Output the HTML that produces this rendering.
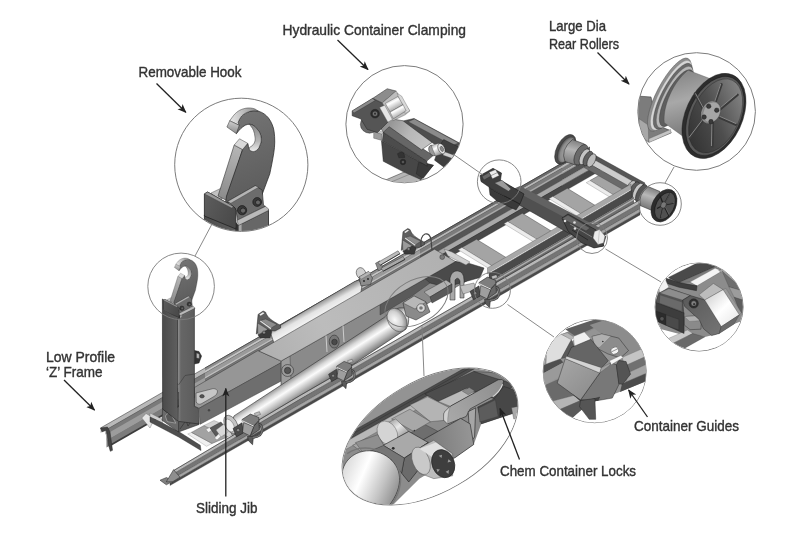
<!DOCTYPE html>
<html><head><meta charset="utf-8">
<style>
html,body{margin:0;padding:0;background:#fff;}
body{width:800px;height:533px;overflow:hidden;}
svg{display:block;filter:blur(0.45px)}
text{font-family:"Liberation Sans",sans-serif;font-size:14.3px;fill:#333;stroke:#333;stroke-width:0.38px;}
</style></head><body>
<svg width="800" height="533" viewBox="0 0 800 533">
<defs>
<marker id="ah" viewBox="0 0 10 10" refX="9" refY="5" markerWidth="9" markerHeight="9" orient="auto" markerUnits="userSpaceOnUse"><path d="M0,1 L10,5 L0,9 L2.5,5 Z" fill="#222"/></marker>
<linearGradient id="cyl" x1="0" y1="0" x2="0" y2="1"><stop offset="0" stop-color="#8a8a8a"/><stop offset=".3" stop-color="#e8e8e8"/><stop offset=".6" stop-color="#c9c9c9"/><stop offset="1" stop-color="#777"/></linearGradient>
<linearGradient id="cylB" gradientUnits="userSpaceOnUse" x1="300" y1="312" x2="311" y2="332"><stop offset="0" stop-color="#8a8a8a"/><stop offset=".3" stop-color="#e4e4e4"/><stop offset=".6" stop-color="#f4f4f4"/><stop offset="1" stop-color="#a0a0a0"/></linearGradient>
<linearGradient id="cylF" gradientUnits="userSpaceOnUse" x1="320" y1="358.6" x2="332.5" y2="378.2"><stop offset="0" stop-color="#858585"/><stop offset=".25" stop-color="#d8d8d8"/><stop offset=".42" stop-color="#fbfbfb"/><stop offset=".7" stop-color="#bdbdbd"/><stop offset="1" stop-color="#707070"/></linearGradient>
<linearGradient id="jibTop" gradientUnits="userSpaceOnUse" x1="200" y1="400" x2="450" y2="255"><stop offset="0" stop-color="#a2a2a2"/><stop offset=".5" stop-color="#bcbcbc"/><stop offset="1" stop-color="#b0b0b0"/></linearGradient>
<linearGradient id="postF" x1="0" y1="0" x2="1" y2="0"><stop offset="0" stop-color="#4a4a4a"/><stop offset="1" stop-color="#5f5f5f"/></linearGradient>
<linearGradient id="postS" x1="0" y1="0" x2="1" y2="0"><stop offset="0" stop-color="#8a8a8a"/><stop offset=".15" stop-color="#666"/><stop offset="1" stop-color="#5a5a5a"/></linearGradient>
<radialGradient id="flangeG" cx=".6" cy=".5" r=".6"><stop offset="0" stop-color="#b0b0b0"/><stop offset=".7" stop-color="#8a8a8a"/><stop offset="1" stop-color="#4a4a4a"/></radialGradient>
<linearGradient id="hkFace" gradientUnits="userSpaceOnUse" x1="235" y1="115" x2="270" y2="200"><stop offset="0" stop-color="#737373"/><stop offset="1" stop-color="#5a5a5a"/></linearGradient>
<linearGradient id="hkEdge" gradientUnits="userSpaceOnUse" x1="238" y1="147" x2="222" y2="198"><stop offset="0" stop-color="#b5b5b5"/><stop offset="1" stop-color="#8c8c8c"/></linearGradient>
<linearGradient id="hkTopEdge" gradientUnits="userSpaceOnUse" x1="230" y1="120" x2="258" y2="110"><stop offset="0" stop-color="#e6e6e6"/><stop offset=".5" stop-color="#bdbdbd"/><stop offset="1" stop-color="#8a8a8a"/></linearGradient>
<linearGradient id="hkTip" gradientUnits="userSpaceOnUse" x1="232" y1="121" x2="230" y2="133"><stop offset="0" stop-color="#d0d0d0"/><stop offset="1" stop-color="#8a8a8a"/></linearGradient>
<linearGradient id="hkThroat" gradientUnits="userSpaceOnUse" x1="255" y1="125" x2="255" y2="152"><stop offset="0" stop-color="#8a8a8a"/><stop offset=".6" stop-color="#b5b5b5"/><stop offset="1" stop-color="#f0f0f0"/></linearGradient>
<linearGradient id="hkPlate" gradientUnits="userSpaceOnUse" x1="204" y1="200" x2="236" y2="215"><stop offset="0" stop-color="#5c5c5c"/><stop offset="1" stop-color="#4a4a4a"/></linearGradient>
<linearGradient id="hkPostF" gradientUnits="userSpaceOnUse" x1="204" y1="0" x2="236" y2="0"><stop offset="0" stop-color="#4c4c4c"/><stop offset="1" stop-color="#5e5e5e"/></linearGradient>
<linearGradient id="clTop" gradientUnits="userSpaceOnUse" x1="180" y1="260" x2="390" y2="370"><stop offset="0" stop-color="#8e8e8e"/><stop offset=".5" stop-color="#b8b8b8"/><stop offset="1" stop-color="#c6c6c6"/></linearGradient>
<linearGradient id="clRoll" gradientUnits="objectBoundingBox" x1="0" y1="0" x2=".6" y2="1"><stop offset="0" stop-color="#8a8a8a"/><stop offset=".45" stop-color="#ffffff"/><stop offset="1" stop-color="#8a8a8a"/></linearGradient>
<linearGradient id="rlDrum" gradientUnits="userSpaceOnUse" x1="160" y1="120" x2="230" y2="380"><stop offset="0" stop-color="#8a8a8a"/><stop offset=".4" stop-color="#a8a8a8"/><stop offset="1" stop-color="#777"/></linearGradient>
<linearGradient id="rlDish" gradientUnits="userSpaceOnUse" x1="250" y1="400" x2="450" y2="180"><stop offset="0" stop-color="#333"/><stop offset=".5" stop-color="#4e4e4e"/><stop offset="1" stop-color="#838383"/></linearGradient>
<linearGradient id="rtJaw" gradientUnits="userSpaceOnUse" x1="200" y1="220" x2="380" y2="420"><stop offset="0" stop-color="#5c5c5c"/><stop offset="1" stop-color="#737373"/></linearGradient>
<linearGradient id="rtBlock" gradientUnits="userSpaceOnUse" x1="330" y1="210" x2="470" y2="350"><stop offset="0" stop-color="#dcdcdc"/><stop offset=".5" stop-color="#ffffff"/><stop offset="1" stop-color="#ececec"/></linearGradient>
<linearGradient id="gdFace" gradientUnits="userSpaceOnUse" x1="110" y1="220" x2="260" y2="400"><stop offset="0" stop-color="#a4a4a4"/><stop offset="1" stop-color="#8c8c8c"/></linearGradient>
<linearGradient id="chPlate" gradientUnits="userSpaceOnUse" x1="330" y1="290" x2="500" y2="260"><stop offset="0" stop-color="#7a7a7a"/><stop offset="1" stop-color="#979797"/></linearGradient>
<linearGradient id="chBarrel" gradientUnits="userSpaceOnUse" x1="180" y1="215" x2="230" y2="280"><stop offset="0" stop-color="#9a9a9a"/><stop offset=".5" stop-color="#e8e8e8"/><stop offset="1" stop-color="#9a9a9a"/></linearGradient>
<linearGradient id="chCyl" gradientUnits="userSpaceOnUse" x1="20" y1="380" x2="230" y2="470"><stop offset="0" stop-color="#d8d8d8"/><stop offset=".35" stop-color="#ffffff"/><stop offset=".7" stop-color="#c4c4c4"/><stop offset="1" stop-color="#8a8a8a"/></linearGradient>
<radialGradient id="cylEnd" cx=".4" cy=".45" r=".6"><stop offset="0" stop-color="#fafafa"/><stop offset=".6" stop-color="#d0d0d0"/><stop offset="1" stop-color="#8a8a8a"/></radialGradient>
<clipPath id="clipHookMain"><path d="M150,250 L220,250 L220,309 L195,309 L178.5,319 L161,308 L150,308 Z"/></clipPath>
<linearGradient id="chArm" gradientUnits="userSpaceOnUse" x1="400" y1="200" x2="600" y2="70"><stop offset="0" stop-color="#a8a8a8"/><stop offset="1" stop-color="#8e8e8e"/></linearGradient>
<linearGradient id="drumG" gradientUnits="userSpaceOnUse" x1="574" y1="140" x2="568" y2="164"><stop offset="0" stop-color="#808080"/><stop offset=".4" stop-color="#b4b4b4"/><stop offset="1" stop-color="#787878"/></linearGradient>
<linearGradient id="drumG2" gradientUnits="userSpaceOnUse" x1="652" y1="188" x2="645" y2="208"><stop offset="0" stop-color="#808080"/><stop offset=".4" stop-color="#b8b8b8"/><stop offset="1" stop-color="#777"/></linearGradient>
<clipPath id="cHook"><circle cx="241.3" cy="164.8" r="66.2"/></clipPath>
<clipPath id="cClamp"><circle cx="404.5" cy="124.2" r="58.2"/></clipPath>
<clipPath id="cRoll"><circle cx="696.6" cy="111.5" r="58.4"/></clipPath>
<clipPath id="cRight"><circle cx="699.1" cy="307" r="43.7"/></clipPath>
<clipPath id="cGuide"><circle cx="594.7" cy="371.2" r="51.2"/></clipPath>
<clipPath id="cChem"><ellipse cx="430" cy="436.5" rx="96" ry="55.4" transform="rotate(-30.3 430 436.5)"/></clipPath>
<!--HOOKDEF-->

<!--/HOOKDEF-->
</defs>
<rect width="800" height="533" fill="#fff"/>

<!--MAIN-->
<g id="main">
<path d="M106.5,428.6 L562.0,167.1 L562.0,186.1 L106.5,447.6 Z" fill="#777" stroke="none" stroke-width="0.4" stroke-linejoin="round" />
<path d="M100.5,428.0 L562.0,163.1 L562.0,168.1 L100.5,433.0 Z" fill="#b9b9b9" stroke="none" stroke-width="0.4" stroke-linejoin="round" />
<path d="M105.5,430.1 L562.0,168.1 L562.0,172.6 L105.5,434.6 Z" fill="#7a7a7a" stroke="none" stroke-width="0.4" stroke-linejoin="round" />
<path d="M106.5,434.1 L562.0,172.6 L562.0,179.1 L106.5,440.6 Z" fill="#9c9c9c" stroke="none" stroke-width="0.4" stroke-linejoin="round" />
<path d="M107.5,440.0 L562.0,179.1 L562.0,185.1 L107.5,446.0 Z" fill="#7c7c7c" stroke="none" stroke-width="0.4" stroke-linejoin="round" />
<path d="M109.5,444.8 L562.0,185.1 L562.0,187.1 L109.5,446.8 Z" fill="#3c3c3c" stroke="none" stroke-width="0.4" stroke-linejoin="round" />
<path d="M100.5,428.0 L562.0,163.1" fill="none" stroke="#2b2b2b" stroke-width="0.5"/>
<path d="M105.5,430.1 L562.0,168.1" fill="none" stroke="#444" stroke-width="0.4"/>
<path d="M100.5,428.0 L102.0,431.8 L106.5,430.3 L108.8,446.0 L110.3,451.3 L112.5,450.3 L110.0,432.0 L107.5,427.0 Z" fill="#444" stroke="#2b2b2b" stroke-width="0.5" stroke-linejoin="round" />
<path d="M205.0,368.0 L420.0,244.6 L420.0,247.6 L205.0,371.0 Z" fill="#8c8c8c" stroke="none" stroke-width="0.4" stroke-linejoin="round" />
<path d="M205.0,371.0 L420.0,247.6 L420.0,249.6 L205.0,373.0 Z" fill="#c6c6c6" stroke="none" stroke-width="0.4" stroke-linejoin="round" />
<path d="M205.0,373.0 L420.0,249.6 L420.0,253.6 L205.0,377.0 Z" fill="#9a9a9a" stroke="none" stroke-width="0.4" stroke-linejoin="round" />
<path d="M205.0,377.0 L420.0,253.6 L420.0,255.6 L205.0,379.0 Z" fill="#bdbdbd" stroke="none" stroke-width="0.4" stroke-linejoin="round" />
<path d="M205.0,379.0 L420.0,255.6 L420.0,261.6 L205.0,385.0 Z" fill="#787878" stroke="none" stroke-width="0.4" stroke-linejoin="round" />
<path d="M420.0,244.6 L590.0,147.0 L590.0,150.0 L420.0,247.6 Z" fill="#6a6a6a" stroke="none" stroke-width="0.4" stroke-linejoin="round" />
<path d="M420.0,247.6 L590.0,150.0 L590.0,152.0 L420.0,249.6 Z" fill="#b8b8b8" stroke="none" stroke-width="0.4" stroke-linejoin="round" />
<path d="M420.0,249.6 L590.0,152.0 L590.0,156.0 L420.0,253.6 Z" fill="#7c7c7c" stroke="none" stroke-width="0.4" stroke-linejoin="round" />
<path d="M420.0,253.6 L590.0,156.0 L590.0,158.0 L420.0,255.6 Z" fill="#a8a8a8" stroke="none" stroke-width="0.4" stroke-linejoin="round" />
<path d="M420.0,255.6 L590.0,158.0 L590.0,164.0 L420.0,261.6 Z" fill="#555" stroke="none" stroke-width="0.4" stroke-linejoin="round" />
<path d="M205.0,368.0 L590.0,147.0" fill="none" stroke="#2a2a2a" stroke-width="0.6"/>
<path d="M205.0,373.0 L590.0,152.0" fill="none" stroke="#444" stroke-width="0.3"/>
<path d="M205.0,379.0 L590.0,158.0" fill="none" stroke="#333" stroke-width="0.3"/>
<path d="M205.0,385.0 L420.0,261.6 L420.0,271.6 L205.0,395.0 Z" fill="#8a8a8a" stroke="#333" stroke-width="0.3" stroke-linejoin="round" />
<path d="M420.0,261.6 L596.0,160.6 L596.0,166.2 L420.0,267.2 Z" fill="#a8a8a8" stroke="#333" stroke-width="0.3" stroke-linejoin="round" />
<path d="M420.0,267.2 L600.0,163.9 L600.0,170.8 L420.0,274.1 Z" fill="#484848" stroke="#222" stroke-width="0.3" stroke-linejoin="round" />
<path d="M141.8,418.0 L146.0,413.5 L154.5,418.5 L150.0,428.0 Z" fill="#e6e6e6" stroke="#666" stroke-width="0.4" stroke-linejoin="round" />
<path d="M150.0,413.0 L162.6,419.5 L162.6,423.0 L150.0,417.0 Z" fill="#cfcfcf" stroke="#555" stroke-width="0.3" stroke-linejoin="round" />
<path d="M150.0,417.0 L162.6,423.0 L178.6,431.5 L200.3,445.3 L201.0,450.5 L178.6,437.0 L150.0,422.0 Z" fill="#4f4f4f" stroke="#222" stroke-width="0.4" stroke-linejoin="round" />
<path d="M187.7,434.0 L191.5,432.4 L212.0,443.5 L206.5,446.3 Z" fill="#efefef" stroke="#777" stroke-width="0.3" stroke-linejoin="round" />
<path d="M191.5,432.4 L204.0,425.5 L228.0,436.8 L212.0,443.5 Z" fill="#a2a2a2" stroke="#444" stroke-width="0.4" stroke-linejoin="round" />
<path d="M204.0,425.5 L214.0,420.5 L240.0,431.0 L228.0,436.8 Z" fill="#d2d2d2" stroke="#666" stroke-width="0.3" stroke-linejoin="round" />
<path d="M552.8,196.5 L567.3,188.3 L595.8,205.8 L581.3,214.0 Z" fill="#a4a4a4" stroke="#333" stroke-width="0.4" stroke-linejoin="round" />
<path d="M549.0,198.7 L552.8,196.5 L581.3,214.0 L577.5,216.2 Z" fill="#ececec" stroke="#666" stroke-width="0.3" stroke-linejoin="round" />
<path d="M507.8,221.5 L522.3,213.3 L553.3,232.3 L538.8,240.5 Z" fill="#a4a4a4" stroke="#333" stroke-width="0.4" stroke-linejoin="round" />
<path d="M504.0,223.7 L507.8,221.5 L538.8,240.5 L535.0,242.7 Z" fill="#ececec" stroke="#666" stroke-width="0.3" stroke-linejoin="round" />
<path d="M462.0,247.5 L476.5,239.3 L508.1,258.7 L493.6,266.9 Z" fill="#a4a4a4" stroke="#333" stroke-width="0.4" stroke-linejoin="round" />
<path d="M458.2,249.7 L462.0,247.5 L493.6,266.9 L489.8,269.1 Z" fill="#ececec" stroke="#666" stroke-width="0.3" stroke-linejoin="round" />
<path d="M590.0,180.5 L604.5,172.3 L630.9,188.5 L616.4,196.7 Z" fill="#a4a4a4" stroke="#333" stroke-width="0.4" stroke-linejoin="round" />
<path d="M586.2,182.7 L590.0,180.5 L616.4,196.7 L612.6,198.8 Z" fill="#ececec" stroke="#666" stroke-width="0.3" stroke-linejoin="round" />
<path d="M590.0,152.5 L645.0,183.0 L643.0,187.0 L588.5,156.5 Z" fill="#565656" stroke="#222" stroke-width="0.4" stroke-linejoin="round" />
<path d="M588.5,156.5 L643.0,187.0 L640.0,192.5 L586.0,162.0 Z" fill="#cdcdcd" stroke="#444" stroke-width="0.4" stroke-linejoin="round" />
<path d="M586.0,162.0 L640.0,192.5 L637.0,197.5 L584.0,167.5 Z" fill="#6a6a6a" stroke="#333" stroke-width="0.3" stroke-linejoin="round" />
<g stroke="#222" stroke-width="0.5"><ellipse cx="565.3" cy="149.4" rx="8.6" ry="16.2" transform="rotate(27 565.3 149.4)" fill="#4a4a4a"/><ellipse cx="566.3" cy="149.8" rx="7" ry="14" transform="rotate(27 566.3 149.8)" fill="url(#flangeG)" stroke="#333" stroke-width="0.4"/><path d="M572.5,139.5 L584.5,144 Q588,155 577,165.5 L565,161.5 Q560,150 572.5,139.5 Z" fill="url(#drumG)"/><ellipse cx="581" cy="154.8" rx="5.6" ry="11.2" transform="rotate(27 581 154.8)" fill="#6a6a6a"/><ellipse cx="584.5" cy="156.8" rx="4.2" ry="8.6" transform="rotate(27 584.5 156.8)" fill="#c4c4c4"/><ellipse cx="588" cy="158.6" rx="4" ry="8" transform="rotate(27 588 158.6)" fill="#606060"/><ellipse cx="591.5" cy="160.4" rx="3.6" ry="7.2" transform="rotate(27 591.5 160.4)" fill="#bdbdbd"/></g>
<g stroke="#222" stroke-width="0.5"><ellipse cx="631" cy="187.5" rx="3.6" ry="7.6" transform="rotate(27 631 187.5)" fill="#bdbdbd"/><ellipse cx="634.5" cy="189.5" rx="4" ry="8.4" transform="rotate(27 634.5 189.5)" fill="#5c5c5c"/><ellipse cx="638" cy="191.5" rx="4.2" ry="9" transform="rotate(27 638 191.5)" fill="#c8c8c8"/><ellipse cx="641.5" cy="193.5" rx="4.6" ry="9.8" transform="rotate(27 641.5 193.5)" fill="#555"/><path d="M648,186.5 L660,191.5 Q662,203 652,210.5 L640,205.5 Q638,195 648,186.5 Z" fill="url(#drumG2)"/><ellipse cx="664" cy="205.6" rx="11.6" ry="17.4" transform="rotate(27 664 205.6)" fill="#2c2c2c"/><ellipse cx="665" cy="206" rx="9" ry="14.6" transform="rotate(27 665 206)" fill="#505050" stroke="#111"/><path d="M663.5,205 L670,193.5 M663.5,205 L673.5,203 M663.5,205 L669,216 M663.5,205 L660.5,218 M663.5,205 L657,208.5 M663.5,205 L660,195.5" stroke="#1e1e1e" stroke-width="1.3"/><path d="M664,204.5 L670.5,193 M664,204.5 L674,202.5 M664,204.5 L669.5,215.5 M664,204.5 L661,217.5" stroke="#8a8a8a" stroke-width="0.4"/><ellipse cx="663.5" cy="205" rx="2.6" ry="3.4" transform="rotate(27 663.5 205)" fill="#777"/></g>
<path d="M487.5,267.9 L631.0,183.9 L631.0,189.9 L487.5,273.9 Z" fill="#a8a8a8" stroke="#333" stroke-width="0.3" stroke-linejoin="round" />
<path d="M490.0,272.4 L631.0,189.9" fill="none" stroke="#ececec" stroke-width="1.0"/>
<path d="M489.0,273.6 L632.0,189.9 L632.0,198.3 L489.0,282.0 Z" fill="#4a4a4a" stroke="#222" stroke-width="0.3" stroke-linejoin="round" />
<path d="M489.0,282.0 L634.0,197.1 L634.0,203.1 L489.0,288.0 Z" fill="#6f6f6f" stroke="none" stroke-width="0.4" stroke-linejoin="round" />
<path d="M489.0,283.5 L634.0,198.6 L634.0,200.1 L489.0,285.0 Z" fill="#b0b0b0" stroke="none" stroke-width="0.4" stroke-linejoin="round" />
<path d="M270.0,331.4 L355.0,281.3 L359.0,280.0 L362.0,285.3 L360.0,298.4 L276.0,349.0 Z" fill="url(#cylB)" stroke="#333" stroke-width="0.6" stroke-linejoin="round" />
<g transform="translate(256,311) scale(1.0)" stroke="#1e1e1e" stroke-width="0.5" stroke-linejoin="round"><path d="M2.1,3.4 L7.1,0 L9.6,1.2 C11,5 13,8 21.5,12.7 L24.6,14.6 L24.6,17 L19,20 L6,19 L0.3,23 Z" fill="#5e5e5e"/><path d="M3.4,3.6 L7,1.2 L8.4,2.2 L4.6,4.7 Z" fill="#f0f0f0" stroke="none"/><path d="M4.6,9.5 L9.6,8 L20.9,13.4 L15.3,17 Z" fill="#8c8c8c" stroke-width="0.3"/><path d="M4,10.5 L4.6,9.5 L15.3,17 L14.7,18.2 Z" fill="#e0e0e0" stroke="none"/><path d="M1.5,12 L12,18.5 L2,24 Z" fill="#9a9a9a" stroke-width="0.3"/><path d="M2,24 L12,18.5 L16,20.5 L14,27 L4,27 Z" fill="#3a3a3a" stroke-width="0.3"/><circle cx="8" cy="21.5" r="1.6" fill="#888" stroke="#111" stroke-width="0.4"/></g>
<g transform="translate(401,228.5) scale(0.95)" stroke="#1e1e1e" stroke-width="0.5" stroke-linejoin="round"><path d="M2.1,3.4 L7.1,0 L9.6,1.2 C11,5 13,8 21.5,12.7 L24.6,14.6 L24.6,17 L19,20 L6,19 L0.3,23 Z" fill="#5e5e5e"/><path d="M3.4,3.6 L7,1.2 L8.4,2.2 L4.6,4.7 Z" fill="#f0f0f0" stroke="none"/><path d="M4.6,9.5 L9.6,8 L20.9,13.4 L15.3,17 Z" fill="#8c8c8c" stroke-width="0.3"/><path d="M4,10.5 L4.6,9.5 L15.3,17 L14.7,18.2 Z" fill="#e0e0e0" stroke="none"/><path d="M1.5,12 L12,18.5 L2,24 Z" fill="#9a9a9a" stroke-width="0.3"/><path d="M2,24 L12,18.5 L16,20.5 L14,27 L4,27 Z" fill="#3a3a3a" stroke-width="0.3"/><circle cx="8" cy="21.5" r="1.6" fill="#888" stroke="#111" stroke-width="0.4"/></g>
<ellipse cx="361" cy="273.3" rx="4.6" ry="5.8" transform="rotate(-20 361 273.3)" fill="#d0d0d0" stroke="#333" stroke-width="0.5"/>
<path d="M359.0,277.0 L368.5,271.5 L372.5,278.0 L370.5,284.5 L361.0,286.0 Z" fill="#8c8c8c" stroke="#222" stroke-width="0.5" stroke-linejoin="round" />
<path d="M359.0,277.0 L368.5,271.5 L371.0,273.5 L361.5,279.0 Z" fill="#b5b5b5" stroke="#444" stroke-width="0.3" stroke-linejoin="round" />
<circle cx="364" cy="281" r="0.9" fill="#222"/><circle cx="368" cy="279" r="0.9" fill="#222"/>
<path d="M375.5,263.2 L380.0,260.8 L383.0,268.5 L378.5,271.0 Z" fill="#8a8a8a" stroke="#222" stroke-width="0.4" stroke-linejoin="round" />
<path d="M378.0,262.3 L398.0,250.8 L400.0,253.6 L380.3,265.2 Z" fill="#bdbdbd" stroke="#222" stroke-width="0.4" stroke-linejoin="round" />
<path d="M380.3,265.2 L400.0,253.6" fill="none" stroke="#333" stroke-width="0.9"/>
<path d="M381.0,268.2 L403.0,256.6 L405.0,259.4 L383.2,271.2 Z" fill="#a8a8a8" stroke="#222" stroke-width="0.4" stroke-linejoin="round" />
<path d="M383.2,271.2 L405.0,259.4" fill="none" stroke="#333" stroke-width="0.9"/>
<path d="M421,247 Q420,236 425,234 Q430,233 431,240 L432,250" fill="none" stroke="#444" stroke-width="1.2"/>
<path d="M194.4,387.5 L258.0,350.5 L283.0,362.0 L199.0,408.3 L194.4,406.4 Z" fill="#969696" stroke="#333" stroke-width="0.5" stroke-linejoin="round" />
<path d="M199.0,408.3 L283.0,361.5 L283.0,380.0 L200.0,424.3 Z" fill="#6e6e6e" stroke="#333" stroke-width="0.5" stroke-linejoin="round" />
<path d="M196,393 L213,388.6 Q217.5,388.6 217.5,392 Q217,395 214,396.5 L201,404 Q197,405 196.2,401.5 Z" fill="#c6c6c6" stroke="#333" stroke-width="0.5"/>
<ellipse cx="202" cy="396.3" rx="2.2" ry="1.7" fill="#555" stroke="#222" stroke-width="0.5"/>
<circle cx="209" cy="410.3" r="1.2" fill="#444"/>
<path d="M281.2,361.0 L455.5,261.5 L470.0,268.0 L470.0,279.0 L281.2,388.0 Z" fill="#8a8a8a" stroke="#333" stroke-width="0.5" stroke-linejoin="round" />
<path d="M281.2,361.0 L290.0,356.0 L291.0,381.0 L281.2,388.0 Z" fill="#9c9c9c" stroke="#333" stroke-width="0.4" stroke-linejoin="round" />
<path d="M425.0,279.0 L455.5,261.5 L468.4,263.2 L484.0,268.0 L480.0,277.5 L446.0,287.0 L430.0,283.0 Z" fill="#4a4a4a" stroke="#222" stroke-width="0.5" stroke-linejoin="round" />
<path d="M380.0,304.5 L425.0,279.0 L430.0,283.0 L412.0,296.0 L380.0,315.0 Z" fill="#5a5a5a" stroke="#333" stroke-width="0.4" stroke-linejoin="round" />
<path d="M258.8,351.0 L434.5,249.2 L455.5,261.5 L281.2,361.0 Z" fill="url(#jibTop)" stroke="#333" stroke-width="0.5" stroke-linejoin="round" />
<circle cx="287.6" cy="370.5" r="6" fill="#9a9a9a" stroke="#333" stroke-width="0.6"/><circle cx="287.6" cy="370.5" r="3.2" fill="#555" stroke="#222" stroke-width="0.5"/>
<ellipse cx="334.2" cy="341.6" rx="5" ry="6.5" fill="#777" stroke="#333" stroke-width="0.6"/><circle cx="334.5" cy="342" r="2.8" fill="#4a4a4a" stroke="#222" stroke-width="0.5"/>
<path d="M326.0,335.5 L327.0,352.0" fill="none" stroke="#ddd" stroke-width="0.8"/>
<path d="M343.0,325.5 L344.0,342.0" fill="none" stroke="#ddd" stroke-width="0.8"/>
<circle cx="442.2" cy="257.1" r="2.4" fill="#7a7a7a" stroke="#333" stroke-width="0.5"/>
<path d="M444.0,249.0 L452.0,252.0 L470.0,262.0 L466.0,265.0 L448.0,256.0 Z" fill="#d0d0d0" stroke="#555" stroke-width="0.4" stroke-linejoin="round" />
<path d="M450,300 L450,278 Q452,270 458,271 Q464,272 464,280 L464,298 L460,298 L460,281 Q458,276 455,280 L455,300 Z" fill="#a8a8a8" stroke="#222" stroke-width="0.5"/>
<path d="M460.0,286.0 L474.0,283.0 L476.0,290.0 L463.0,294.0 Z" fill="#c0c0c0" stroke="#444" stroke-width="0.4" stroke-linejoin="round" />
<path d="M234,415.9 L384,317.6 Q394,306.1 405,307.9 Q412,319.6 406,329.2 L240,440.0 Q226,438.5 234,415.9 Z" fill="url(#cylF)" stroke="#333" stroke-width="0.6"/>
<ellipse cx="397" cy="320" rx="9" ry="12.5" transform="rotate(-30 397 320)" fill="url(#cylEnd)" stroke="#444" stroke-width="0.5"/>
<path d="M403.0,303.0 L414.0,296.0 L426.0,302.0 L430.0,312.0 L416.0,320.0 L406.0,316.0 Z" fill="#8a8a8a" stroke="#222" stroke-width="0.5" stroke-linejoin="round" />
<path d="M403.0,303.0 L414.0,296.0 L426.0,302.0 L415.0,309.0 Z" fill="#b8b8b8" stroke="#333" stroke-width="0.4" stroke-linejoin="round" />
<circle cx="421" cy="308" r="4.2" fill="#d8d8d8" stroke="#222" stroke-width="0.5"/><circle cx="421" cy="308" r="1.8" fill="#777"/>
<path d="M424.0,292.0 L446.0,280.0 L452.0,284.0 L430.0,297.0 Z" fill="#b0b0b0" stroke="#333" stroke-width="0.4" stroke-linejoin="round" />
<path d="M430.0,297.0 L452.0,284.0 L452.0,292.0 L432.0,303.0 Z" fill="#5a5a5a" stroke="#222" stroke-width="0.4" stroke-linejoin="round" />
<ellipse cx="231" cy="424.5" rx="6" ry="10" transform="rotate(-30 231 424.5)" fill="#c4c4c4" stroke="#333" stroke-width="0.5"/>
<ellipse cx="229.5" cy="425.5" rx="4" ry="7" transform="rotate(-30 229.5 425.5)" fill="#efefef" stroke="#555" stroke-width="0.4"/>
<path d="M206.0,429.5 L209.5,427.5 L212.0,430.0 L208.5,432.5 Z" fill="#f4f4f4" stroke="#666" stroke-width="0.3" stroke-linejoin="round" />
<path d="M210.0,428.0 L221.0,422.0 L226.0,429.0 L216.0,436.5 Z" fill="#5a5a5a" stroke="#222" stroke-width="0.4" stroke-linejoin="round" />
<path d="M214.5,438.0 L220.0,432.5 L222.5,435.0 L217.0,440.0 Z" fill="#f4f4f4" stroke="#555" stroke-width="0.3" stroke-linejoin="round" />
<path d="M216.0,430.0 L224.0,424.0 L228.0,432.0 L221.0,437.0 Z" fill="#d8d8d8" stroke="#555" stroke-width="0.3" stroke-linejoin="round" />
<path d="M174.0,470.3 L200.0,454.9 L230.0,437.1 L260.0,419.3 L300.0,395.5 L640.0,199.7 L640.0,203.5 L300.0,399.3 L260.0,422.9 L230.0,440.5 L200.0,458.2 L174.0,473.5 Z" fill="#b8b8b8" stroke="#444" stroke-width="0.3" stroke-linejoin="round" />
<path d="M174.0,473.5 L200.0,458.2 L230.0,440.5 L260.0,422.9 L300.0,399.3 L640.0,203.5 L640.0,208.7 L300.0,404.5 L260.0,427.8 L230.0,445.3 L200.0,462.8 L174.0,477.9 Z" fill="#757575" stroke="#333" stroke-width="0.3" stroke-linejoin="round" />
<path d="M172.0,479.1 L200.0,462.8 L230.0,445.3 L260.0,427.8 L300.0,404.5 L640.0,208.7 L640.0,212.2 L300.0,408.0 L260.0,431.1 L230.0,448.5 L200.0,465.8 L172.0,482.0 Z" fill="#a4a4a4" stroke="#444" stroke-width="0.3" stroke-linejoin="round" />
<path d="M170.0,483.2 L200.0,465.8 L230.0,448.5 L260.0,431.1 L300.0,408.0 L640.0,212.2 L640.0,214.9 L300.0,410.8 L260.0,433.8 L230.0,451.0 L200.0,468.3 L170.0,485.5 Z" fill="#4a4a4a" stroke="#333" stroke-width="0.3" stroke-linejoin="round" />
<path d="M174.0,470.3 L200.0,454.9 L230.0,437.1 L260.0,419.3 L300.0,395.5 L640.0,199.7" fill="none" stroke="#2a2a2a" stroke-width="0.6"/>
<path d="M160.0,480.2 L166.3,484.8 L173.0,481.3 L166.5,477.5 Z" fill="#808080" stroke="#222" stroke-width="0.5" stroke-linejoin="round" />
<path d="M166.3,481.8 L173.6,469.6 L180.0,477.2 L172.5,481.8 Z" fill="#8e8e8e" stroke="#222" stroke-width="0.5" stroke-linejoin="round" />
<g transform="translate(251,419.5) scale(1.12)" stroke="#1e1e1e" stroke-width="0.5" stroke-linejoin="round"><path d="M-3.1,15 L2.2,15 L1.4,22.5 L-2.4,18.8 Z" fill="#5a5a5a"/><path d="M-16,8 L-8,3 L-7,12 L-13,15.5 Z" fill="#4c4c4c"/><circle cx="-11.5" cy="9.5" r="1.5" fill="#8a8a8a" stroke-width="0.4"/><path d="M3,5.5 Q9.5,1.5 10,9 Q10,15.5 1.5,16" fill="none" stroke="#444" stroke-width="2.2"/><path d="M3,5.5 Q9.5,1.5 10,9 Q10,15.5 1.5,16" fill="none" stroke="#8a8a8a" stroke-width="0.8"/><path d="M2.5,6 L7,0.8 L7.5,9 L-0.8,14.7 Z" fill="#686868"/><path d="M-6.5,2.7 L2.5,6.4 L-0.85,14.7 L-7.6,11.3 Z" fill="#9e9e9e"/><path d="M-8,0 L-0.5,-4.8 L7,-1.8 L7,0.8 L2.5,5.7 L-8,1.2 Z" fill="#7e7e7e"/><path d="M-8,1 L2.5,5.9" stroke="#f0f0f0" stroke-width="0.8" fill="none"/><path d="M3,-5.5 L7.5,-7 L8.5,-4.5 L4,-3 Z" fill="#bdbdbd" stroke-width="0.3"/></g>
<g transform="translate(344.6,366.2) scale(1.0)" stroke="#1e1e1e" stroke-width="0.5" stroke-linejoin="round"><path d="M-3.1,15 L2.2,15 L1.4,22.5 L-2.4,18.8 Z" fill="#5a5a5a"/><path d="M-16,8 L-8,3 L-7,12 L-13,15.5 Z" fill="#4c4c4c"/><circle cx="-11.5" cy="9.5" r="1.5" fill="#8a8a8a" stroke-width="0.4"/><path d="M3,5.5 Q9.5,1.5 10,9 Q10,15.5 1.5,16" fill="none" stroke="#444" stroke-width="2.2"/><path d="M3,5.5 Q9.5,1.5 10,9 Q10,15.5 1.5,16" fill="none" stroke="#8a8a8a" stroke-width="0.8"/><path d="M2.5,6 L7,0.8 L7.5,9 L-0.8,14.7 Z" fill="#686868"/><path d="M-6.5,2.7 L2.5,6.4 L-0.85,14.7 L-7.6,11.3 Z" fill="#9e9e9e"/><path d="M-8,0 L-0.5,-4.8 L7,-1.8 L7,0.8 L2.5,5.7 L-8,1.2 Z" fill="#7e7e7e"/><path d="M-8,1 L2.5,5.9" stroke="#f0f0f0" stroke-width="0.8" fill="none"/><path d="M3,-5.5 L7.5,-7 L8.5,-4.5 L4,-3 Z" fill="#bdbdbd" stroke-width="0.3"/></g>
<g transform="translate(488,282.5) scale(1.12)" stroke="#1e1e1e" stroke-width="0.5" stroke-linejoin="round"><path d="M-3.1,15 L2.2,15 L1.4,22.5 L-2.4,18.8 Z" fill="#5a5a5a"/><path d="M-16,8 L-8,3 L-7,12 L-13,15.5 Z" fill="#4c4c4c"/><circle cx="-11.5" cy="9.5" r="1.5" fill="#8a8a8a" stroke-width="0.4"/><path d="M3,5.5 Q9.5,1.5 10,9 Q10,15.5 1.5,16" fill="none" stroke="#444" stroke-width="2.2"/><path d="M3,5.5 Q9.5,1.5 10,9 Q10,15.5 1.5,16" fill="none" stroke="#8a8a8a" stroke-width="0.8"/><path d="M2.5,6 L7,0.8 L7.5,9 L-0.8,14.7 Z" fill="#686868"/><path d="M-6.5,2.7 L2.5,6.4 L-0.85,14.7 L-7.6,11.3 Z" fill="#9e9e9e"/><path d="M-8,0 L-0.5,-4.8 L7,-1.8 L7,0.8 L2.5,5.7 L-8,1.2 Z" fill="#7e7e7e"/><path d="M-8,1 L2.5,5.9" stroke="#f0f0f0" stroke-width="0.8" fill="none"/><path d="M3,-5.5 L7.5,-7 L8.5,-4.5 L4,-3 Z" fill="#bdbdbd" stroke-width="0.3"/></g>
<path d="M492.0,186.0 L500.0,181.0 L606.0,236.5 L603.0,246.0 L594.0,247.5 L515.0,202.5 Z" fill="#505050" stroke="#1a1a1a" stroke-width="0.5" stroke-linejoin="round" />
<path d="M512.0,189.5 L520.0,186.0 L600.0,228.0 L592.0,232.0 Z" fill="#626262" stroke="none" stroke-width="0.3" stroke-linejoin="round" />
<path d="M489.0,187.0 L494.0,190.5 L520.0,204.0 L516.0,210.0 L497.0,201.0 L490.0,195.0 Z" fill="#3a3a3a" stroke="#111" stroke-width="0.4" stroke-linejoin="round" />
<path d="M480.0,175.5 L493.0,168.3 L501.5,173.0 L500.5,180.0 L524.0,194.0 L520.0,204.0 L494.0,190.5 L489.0,187.0 L481.0,181.5 Z" fill="#3e3e3e" stroke="#111" stroke-width="0.5" stroke-linejoin="round" />
<path d="M489.0,172.2 L495.5,169.6 L499.2,175.6 L492.5,178.8 Z" fill="#ededed" stroke="#444" stroke-width="0.4" stroke-linejoin="round" />
<path d="M491.0,175.6 L497.4,172.6" fill="none" stroke="#555" stroke-width="0.5"/>
<path d="M494.5,183.0 L502.0,180.3 L511.0,189.0 L508.5,191.2 Z" fill="#9c9c9c" stroke="#222" stroke-width="0.3" stroke-linejoin="round" />
<path d="M482.0,176.5 L489.0,172.5 L491.0,176.0 L484.0,180.0 Z" fill="#6a6a6a" stroke="#222" stroke-width="0.3" stroke-linejoin="round" />
<path d="M562.0,218.0 L568.0,214.0 L596.0,230.0 L604.0,246.0 L594.0,248.0 L582.0,243.0 L568.0,231.0 Z" fill="#454545" stroke="#111" stroke-width="0.5" stroke-linejoin="round" />
<path d="M570.0,224.0 L592.0,237.0" fill="none" stroke="#8a8a8a" stroke-width="0.8"/>
<path d="M572.0,230.0 L588.0,240.0" fill="none" stroke="#222" stroke-width="0.8"/>
<path d="M562.0,218.5 L568.0,215.0 L590.0,228.0 L586.0,231.0 Z" fill="#666" stroke="#222" stroke-width="0.3" stroke-linejoin="round" />
<circle cx="565" cy="221" r="1.3" fill="#ddd"/><circle cx="574.5" cy="222.5" r="1.3" fill="#ddd"/><circle cx="575" cy="228.5" r="1.3" fill="#ddd"/>
<path d="M594.5,231.5 L599.5,229.5 L605.0,236.0 L603.5,243.0 L598.0,244.5 L593.0,238.0 Z" fill="#ececec" stroke="#555" stroke-width="0.4" stroke-linejoin="round" />
<path d="M599.5,229.5 L598.0,244.5" fill="none" stroke="#999" stroke-width="0.4"/>
<path d="M162.6,408.9 L178.6,421.4 L178.6,432.0 L162.0,420.2 Z" fill="#6a6a6a" stroke="#222" stroke-width="0.5" stroke-linejoin="round" />
<path d="M165.3,416.0 L169.6,411.5 L175.8,423.2 L167.3,421.6 Z" fill="#585858" stroke="#c8c8c8" stroke-width="0.5" stroke-linejoin="round" />
<path d="M178.6,421.4 L194.0,416.4 L198.4,422.7 L199.0,424.5 L178.6,432.0 Z" fill="#5c5c5c" stroke="#222" stroke-width="0.5" stroke-linejoin="round" />
<path d="M180.0,429.0 L186.0,420.5 L188.0,426.0 L193.0,418.5" fill="none" stroke="#222" stroke-width="0.5"/>
<path d="M162.4,299.0 L177.8,310.0 L177.8,421.0 L162.6,409.0 Z" fill="url(#postF)" stroke="#222" stroke-width="0.6" stroke-linejoin="round" />
<path d="M177.8,310.0 L194.4,308.0 L194.4,406.4 L198.4,408.2 L199.0,424.0 L178.6,421.4 Z" fill="url(#postS)" stroke="#222" stroke-width="0.6" stroke-linejoin="round" />
<path d="M178.7,312.0 L178.7,392.0" fill="none" stroke="#9a9a9a" stroke-width="0.8"/>
<path d="M178.5,385.0 L185.0,375.5 L194.3,374.0" fill="none" stroke="#333" stroke-width="0.5"/>
<path d="M194.6,350.5 L199.0,351.5 L201.6,356.0 L199.0,363.0 L194.6,364.0 Z" fill="#333" stroke="#111" stroke-width="0.4" stroke-linejoin="round" />
<path d="M196.5,353.0 L199.3,354.0 L199.3,358.5 L196.5,358.0 Z" fill="#b5b5b5" stroke="#333" stroke-width="0.3" stroke-linejoin="round" />
<g clip-path="url(#clipHookMain)"><g transform="translate(63.2,205.2) scale(0.49)"><g stroke-linejoin="round">
<!-- post below bracket -->
<path d="M204.4,215 L235.9,228 L235.9,330 L204.4,330 Z" fill="url(#hkPostF)" stroke="#222" stroke-width="0.8"/>
<path d="M238.4,225.3 L268.5,210.2 L268.5,330 L238.4,330 Z" fill="#676767" stroke="#222" stroke-width="0.8"/>
<path d="M238.4,225.3 L241.6,223.8 L241.6,330 L238.4,330 Z" fill="#a8a8a8"/>
<path d="M235.9,222 L238.4,225.3 L238.4,330 L235.9,330 Z" fill="#333"/>
<!-- back wall -->
<path d="M211,193 L221.5,188 L222,199 L217,200 Z" fill="#c2c2c2" stroke="#555" stroke-width="0.5"/>
<!-- shank left strip (edge thickness) -->
<path d="M234.2,145 L242.6,149.5 L226.8,200.5 L218,196 Z" fill="url(#hkEdge)" stroke="#333" stroke-width="0.6"/>
<!-- front face -->
<path d="M236.4,133.7 L238.1,122.5 C240,117 243,114 247.1,112.4 C251,110.5 255,110.5 258.4,111.2 C263,112.5 266,115 268.5,118 C271.5,122 273.5,127 274.1,131.5 C275,138 275,146 273.8,152.8 C272.5,161 271,168 269.8,173.8 L262,194.8 L259,203 L225.5,203 L226.5,196.1 L242.6,149.5 L247.7,143.3 L248.2,145 C248.5,148 249,149 249.4,149.5 C251,151.5 253,152 255,151.2 C257.5,150 259,148.5 259.5,146.1 C261,143 261.5,141 261.2,138.2 C260.8,134 259.5,131.5 257.2,129.2 C255,126 252.5,124.5 249.4,124.2 C246.5,124.3 244.5,125.5 242.6,127 C240,129 238,131.5 236.4,133.7 Z" fill="url(#hkFace)" stroke="#222" stroke-width="0.7"/>
<!-- outer top edge strip -->
<path d="M229.7,120.8 L232.5,116.9 C236,112 240,109.5 244.9,108.4 C249,107.5 252,108 255,109 L258.4,111.2 C255,110.5 251,110.5 247.1,112.4 C243,114 240,117 238.1,122.5 L239.2,125.3 Z" fill="url(#hkTopEdge)" stroke="#333" stroke-width="0.5"/>
<!-- tip end face -->
<path d="M226.9,127 L229.7,120.8 L239.2,125.3 L236.4,133.7 Z" fill="url(#hkTip)" stroke="#333" stroke-width="0.5"/>
<!-- second tip top face -->
<path d="M234.2,145 L239.5,138.8 L247.7,143.3 L242.6,149.5 Z" fill="#d9d9d9" stroke="#444" stroke-width="0.5"/>
<!-- throat inner wall -->
<path d="M249.4,124.2 C252.5,124.5 255,126 257.2,129.2 C259.5,131.5 260.8,134 261.2,138.2 C261.5,141 261,143 259.5,146.1 C259,148.5 257.5,150 255,151.2 C253,152 251,151.5 249.4,149.5 L249.6,147.2 C253,146 256,142 255,137.1 C254.5,132 253,128.5 251,126.4 Z" fill="url(#hkThroat)" stroke="#333" stroke-width="0.5"/>
<!-- side wall of bracket -->
<path d="M227.7,201.4 L255.3,185.7 L262.2,190.1 L263.5,205.2 L265.4,206.4 L237.7,220.3 L235.9,210.2 L233.3,206.4 Z" fill="#6c6c6c" stroke="#222" stroke-width="0.6"/>
<path d="M227.7,201.4 L255.3,185.7 L258.5,187.3 L230.8,203.3 Z" fill="#b4b4b4" stroke="#444" stroke-width="0.4"/>
<!-- ledge -->
<path d="M237.1,220.3 L265.4,206.4 L268.5,208.9 L268.5,210.4 L238.4,225.5 Z" fill="#bababa" stroke="#333" stroke-width="0.5"/>
<!-- bolts -->
<g stroke="#111" stroke-width="0.6"><circle cx="242.1" cy="210.2" r="4.6" fill="#3a3a3a"/><circle cx="243" cy="210.6" r="2.6" fill="#666"/><circle cx="257.2" cy="202" r="4.4" fill="#3a3a3a"/><circle cx="258" cy="202.4" r="2.5" fill="#666"/></g>
<!-- front plate -->
<path d="M204.4,193.9 L207.6,192 L233.3,206.4 Q235.9,208 235.9,210.6 L235.9,229 L204.4,216 Z" fill="url(#hkPlate)" stroke="#222" stroke-width="0.8"/>
<path d="M204.4,193.9 L207.6,192 L233.3,206.4 L232,208.2 Z" fill="#9a9a9a" stroke="#333" stroke-width="0.4"/>
</g>
</g></g>
</g>
<!--/MAIN-->

<!--CALLOUTS-->
<g id="callouts" fill="#fff" stroke="#7c7c7c" stroke-width="1">
<circle cx="241.3" cy="164.8" r="66.6"/>
<circle cx="404.5" cy="124.2" r="58.6"/>
<circle cx="696.6" cy="111.5" r="58.8"/>
<circle cx="699.1" cy="307" r="44"/>
<circle cx="594.7" cy="371.2" r="51.5"/>
<ellipse cx="430" cy="436.5" rx="96.4" ry="55.8" transform="rotate(-30.3 430 436.5)"/>
</g>
<!--/CALLOUTS-->

<!--CONTENT-->
<g clip-path="url(#cHook)"><g stroke-linejoin="round">
<!-- post below bracket -->
<path d="M204.4,215 L235.9,228 L235.9,330 L204.4,330 Z" fill="url(#hkPostF)" stroke="#222" stroke-width="0.8"/>
<path d="M238.4,225.3 L268.5,210.2 L268.5,330 L238.4,330 Z" fill="#676767" stroke="#222" stroke-width="0.8"/>
<path d="M238.4,225.3 L241.6,223.8 L241.6,330 L238.4,330 Z" fill="#a8a8a8"/>
<path d="M235.9,222 L238.4,225.3 L238.4,330 L235.9,330 Z" fill="#333"/>
<!-- back wall -->
<path d="M211,193 L221.5,188 L222,199 L217,200 Z" fill="#c2c2c2" stroke="#555" stroke-width="0.5"/>
<!-- shank left strip (edge thickness) -->
<path d="M234.2,145 L242.6,149.5 L226.8,200.5 L218,196 Z" fill="url(#hkEdge)" stroke="#333" stroke-width="0.6"/>
<!-- front face -->
<path d="M236.4,133.7 L238.1,122.5 C240,117 243,114 247.1,112.4 C251,110.5 255,110.5 258.4,111.2 C263,112.5 266,115 268.5,118 C271.5,122 273.5,127 274.1,131.5 C275,138 275,146 273.8,152.8 C272.5,161 271,168 269.8,173.8 L262,194.8 L259,203 L225.5,203 L226.5,196.1 L242.6,149.5 L247.7,143.3 L248.2,145 C248.5,148 249,149 249.4,149.5 C251,151.5 253,152 255,151.2 C257.5,150 259,148.5 259.5,146.1 C261,143 261.5,141 261.2,138.2 C260.8,134 259.5,131.5 257.2,129.2 C255,126 252.5,124.5 249.4,124.2 C246.5,124.3 244.5,125.5 242.6,127 C240,129 238,131.5 236.4,133.7 Z" fill="url(#hkFace)" stroke="#222" stroke-width="0.7"/>
<!-- outer top edge strip -->
<path d="M229.7,120.8 L232.5,116.9 C236,112 240,109.5 244.9,108.4 C249,107.5 252,108 255,109 L258.4,111.2 C255,110.5 251,110.5 247.1,112.4 C243,114 240,117 238.1,122.5 L239.2,125.3 Z" fill="url(#hkTopEdge)" stroke="#333" stroke-width="0.5"/>
<!-- tip end face -->
<path d="M226.9,127 L229.7,120.8 L239.2,125.3 L236.4,133.7 Z" fill="url(#hkTip)" stroke="#333" stroke-width="0.5"/>
<!-- second tip top face -->
<path d="M234.2,145 L239.5,138.8 L247.7,143.3 L242.6,149.5 Z" fill="#d9d9d9" stroke="#444" stroke-width="0.5"/>
<!-- throat inner wall -->
<path d="M249.4,124.2 C252.5,124.5 255,126 257.2,129.2 C259.5,131.5 260.8,134 261.2,138.2 C261.5,141 261,143 259.5,146.1 C259,148.5 257.5,150 255,151.2 C253,152 251,151.5 249.4,149.5 L249.6,147.2 C253,146 256,142 255,137.1 C254.5,132 253,128.5 251,126.4 Z" fill="url(#hkThroat)" stroke="#333" stroke-width="0.5"/>
<!-- side wall of bracket -->
<path d="M227.7,201.4 L255.3,185.7 L262.2,190.1 L263.5,205.2 L265.4,206.4 L237.7,220.3 L235.9,210.2 L233.3,206.4 Z" fill="#6c6c6c" stroke="#222" stroke-width="0.6"/>
<path d="M227.7,201.4 L255.3,185.7 L258.5,187.3 L230.8,203.3 Z" fill="#b4b4b4" stroke="#444" stroke-width="0.4"/>
<!-- ledge -->
<path d="M237.1,220.3 L265.4,206.4 L268.5,208.9 L268.5,210.4 L238.4,225.5 Z" fill="#bababa" stroke="#333" stroke-width="0.5"/>
<!-- bolts -->
<g stroke="#111" stroke-width="0.6"><circle cx="242.1" cy="210.2" r="4.6" fill="#3a3a3a"/><circle cx="243" cy="210.6" r="2.6" fill="#666"/><circle cx="257.2" cy="202" r="4.4" fill="#3a3a3a"/><circle cx="258" cy="202.4" r="2.5" fill="#666"/></g>
<!-- front plate -->
<path d="M204.4,193.9 L207.6,192 L233.3,206.4 Q235.9,208 235.9,210.6 L235.9,229 L204.4,216 Z" fill="url(#hkPlate)" stroke="#222" stroke-width="0.8"/>
<path d="M204.4,193.9 L207.6,192 L233.3,206.4 L232,208.2 Z" fill="#9a9a9a" stroke="#333" stroke-width="0.4"/>
</g>
</g>
<!-- CLAMP callout: coords in 533-space of region [343,64,465,186] -->
<g clip-path="url(#cClamp)"><g transform="translate(343,64) scale(0.2289)" stroke="#222" stroke-width="2" stroke-linejoin="round">
<!-- bottom rail -->
<path d="M190,505 L290,462 L345,500 L320,540 L180,540 Z" fill="#b5b5b5"/>
<path d="M200,520 L300,478 L340,505" fill="none" stroke="#666"/>
<!-- back rail -->
<path d="M258,250 L310,238 L540,362 L540,440 L389,343 Z" fill="#4e4e4e"/>
<path d="M285,252 L312,240 L505,345 L478,356 Z" fill="#8a8a8a" stroke="#333" stroke-width="1.5"/>
<path d="M440,330 L540,380 L540,470 L440,450 L400,420 L420,360 Z" fill="#3f3f3f"/>
<!-- front body -->
<path d="M168,335 L330,425 L350,430 L395,442 L340,505 L262,470 L176,425 Z" fill="#474747"/>
<circle cx="262" cy="428" r="12" fill="#2a2a2a"/><circle cx="262" cy="428" r="5.5" fill="#555" stroke="none"/>
<path d="M238,392 L264,378 L270,408 L244,410 Z" fill="#333" stroke-width="1.5"/>
<path d="M330,430 L395,442 L350,500 L320,480 Z" fill="#3a3a3a" stroke-width="1.5"/>
<!-- small left block -->
<path d="M134,294 L170,306 L170,334 L134,324 Z" fill="#9c9c9c" stroke="#444" stroke-width="1.5"/>
<path d="M134,294 L150,288 L186,300 L170,306 Z" fill="#c8c8c8" stroke="#555" stroke-width="1.2"/>
<!-- front bar -->
<path d="M176,298 L366,424 L368,446 L172,336 Z" fill="#4c4c4c"/>
<path d="M176,298 L202,274 L394,400 L366,424 Z" fill="#666"/>
<!-- top face of arm -->
<path d="M158,270 L205,238 L262,248 L389,343 L343,375 L202,274 L176,298 Z" fill="url(#clTop)"/>
<!-- second roller & rod -->
<path d="M440,382 L545,420 L545,436 L436,398 Z" fill="#cfcfcf" stroke="#555" stroke-width="1.5"/>
<ellipse cx="392" cy="378" rx="16" ry="24" transform="rotate(-25 392 378)" fill="#9a9a9a"/>
<path d="M385,356 L418,346 L440,392 L404,402 Z" fill="url(#clRoll)" stroke="#333" stroke-width="1.5"/>
<ellipse cx="430" cy="370" rx="14" ry="24" transform="rotate(-25 430 370)" fill="#e4e4e4"/>
<ellipse cx="432" cy="371" rx="7" ry="12" transform="rotate(-25 432 371)" fill="#8a8a8a" stroke-width="1.5"/>
<!-- clamp head -->
<ellipse cx="116" cy="264" rx="40" ry="38" fill="#6a6a6a"/>
<path d="M40,205 L130,150 L180,175 L200,250 L150,300 L105,285 L78,240 L40,226 Z" fill="#555"/>
<path d="M40,205 L130,150 L140,160 L48,214 Z" fill="#8a8a8a" stroke-width="1.2"/>
<circle cx="140" cy="217" r="19" fill="#2b2b2b"/><circle cx="140" cy="217" r="11" fill="#777" stroke-width="1.5"/><circle cx="140" cy="217" r="5" fill="#333" stroke="none"/>
<path d="M130,150 L193,108 L232,118 L172,170 Z" fill="#8c8c8c"/>
<path d="M172,170 L232,118 L292,205 L272,222 L218,248 Z" fill="#bdbdbd" stroke="#444" stroke-width="1.5"/>
<path d="M160,190 L182,180 L216,242 L196,254 Z" fill="#e6e6e6" stroke="#555" stroke-width="1.5"/>
<path d="M236,128 L256,140 L292,205 L272,216 Z" fill="#d8d8d8" stroke="#555" stroke-width="1.5"/>
<path d="M185,172 L240,142 L262,178 L206,210 Z" fill="url(#clRoll)" stroke="#333" stroke-width="1.5"/>
<path d="M206,210 L262,178 L276,204 L220,240 Z" fill="url(#clRoll)" stroke="#333" stroke-width="1.5"/>
</g></g>
<!-- ROLLER callout: 533-space of region [635,50,757,172] -->
<g clip-path="url(#cRoll)"><g transform="translate(635,50) scale(0.2289)" stroke="#222" stroke-width="2" stroke-linejoin="round">
<!-- bracket -->
<path d="M-10,200 L70,205 L100,330 L150,350 L158,362 L60,402 L-10,345 Z" fill="#7c7c7c"/>
<path d="M18,300 L58,328 L60,402 L18,372 Z" fill="#a8a8a8" stroke="#555" stroke-width="1.5"/>
<path d="M60,388 L155,347 L158,362 L62,404 Z" fill="#c4c4c4" stroke="#555" stroke-width="1.5"/>
<!-- inner flange rings -->
<ellipse cx="150" cy="195" rx="55" ry="178" transform="rotate(27.5 150 195)" fill="#8e8e8e" stroke="#555"/>
<ellipse cx="158" cy="198" rx="52" ry="170" transform="rotate(27.5 158 198)" fill="#d6d6d6" stroke="#777" stroke-width="1.5"/>
<ellipse cx="166" cy="202" rx="50" ry="160" transform="rotate(27.5 166 202)" fill="#6a6a6a" stroke="#333" stroke-width="1.5"/>
<ellipse cx="174" cy="206" rx="48" ry="150" transform="rotate(27.5 174 206)" fill="#b8b8b8" stroke="#555" stroke-width="1.5"/>
<ellipse cx="182" cy="210" rx="46" ry="138" transform="rotate(27.5 182 210)" fill="#5e5e5e" stroke="#333" stroke-width="1.5"/>
<!-- drum -->
<path d="M232,88 L335,128 L230,392 L128,318 C120,250 165,140 232,88 Z" fill="url(#rlDrum)" stroke="#444" stroke-width="1.5"/>
<!-- outer flange -->
<ellipse cx="345" cy="288" rx="124" ry="197" transform="rotate(25 345 288)" fill="#2d2d2d"/>
<ellipse cx="349" cy="288" rx="112" ry="183" transform="rotate(25 349 288)" fill="#5a5a5a" stroke="#111" stroke-width="1.5"/>
<ellipse cx="352" cy="288" rx="103" ry="172" transform="rotate(25 352 288)" fill="url(#rlDish)" stroke="#222" stroke-width="1.5"/>
<!-- spokes (ribs) -->
<g stroke="#3a3a3a" stroke-width="11" stroke-linecap="round" fill="none">
<path d="M345,245 L378,150"/><path d="M368,262 L448,196"/><path d="M370,295 L440,326"/><path d="M340,320 L338,420"/><path d="M300,305 L240,385"/><path d="M298,258 L262,190"/>
</g>
<g stroke="#a8a8a8" stroke-width="3" stroke-linecap="round" fill="none">
<path d="M342,243 L374,150"/><path d="M366,258 L445,192"/><path d="M370,290 L440,321"/><path d="M336,320 L334,418"/><path d="M297,302 L237,381"/><path d="M301,258 L265,191"/>
</g>
<!-- hub -->
<ellipse cx="330" cy="272" rx="40" ry="52" transform="rotate(27.5 330 272)" fill="#8f8f8f" stroke="#333" stroke-width="1.5"/>
<ellipse cx="335" cy="272" rx="36" ry="47" transform="rotate(27.5 335 272)" fill="#a5a5a5" stroke="#555" stroke-width="1.2"/>
<g fill="#3a3a3a" stroke="#111" stroke-width="1.5"><circle cx="322" cy="246" r="10"/><circle cx="357" cy="263" r="10"/><circle cx="302" cy="293" r="10"/><circle cx="332" cy="313" r="10"/></g>
</g></g>
<!-- RIGHT callout: 533-space of region [653,261,745,353] scale 0.1726 -->
<g clip-path="url(#cRight)"><g transform="translate(653,261) scale(0.1726)" stroke="#222" stroke-width="2.5" stroke-linejoin="round">
<rect x="0" y="0" width="533" height="533" fill="#fff" stroke="none"/>
<path d="M-10,200 L60,118 L320,-10 L560,-10 L560,330 L470,365 L384,420 L300,440 L180,430 L-10,380 Z" fill="#8c8c8c" stroke="none"/>
<!-- white wedge top-left -->
<path d="M-10,-10 L320,-10 L60,118 L-10,200 Z" fill="#fff" stroke="none"/>
<path d="M30,130 L70,108 L90,150 L40,185 Z" fill="#f2f2f2" stroke="none"/>
<!-- background rails upper -->
<path d="M90,95 L300,-10 L372,28 L150,125 Z" fill="#4a4a4a"/>
<path d="M150,125 L372,28 L400,58 L255,142 L215,122 Z" fill="#7c7c7c" stroke="#333" stroke-width="1.5"/>
<path d="M215,122 L360,42 L400,58 L255,144 Z" fill="#f4f4f4" stroke="#777" stroke-width="1.5"/>
<path d="M72,98 L150,125 L255,144 L252,172 L150,152 L86,132 Z" fill="#3f3f3f"/>
<path d="M380,55 L470,20 L560,80 L560,150 L470,120 Z" fill="#a2a2a2" stroke="#555" stroke-width="1.5"/>
<path d="M400,58 L470,120 L560,150 L560,185 L440,150 Z" fill="#6e6e6e" stroke="#444" stroke-width="1.5"/>
<path d="M440,150 L560,185 L560,240 L470,210 Z" fill="#9c9c9c" stroke="#444" stroke-width="1.5"/>
<path d="M470,210 L560,240 L560,300 L505,300 Z" fill="#5e5e5e" stroke="#333" stroke-width="1.5"/>
<!-- bottom rails -->
<path d="M40,470 L200,400 L230,420 L80,495 Z" fill="#c9c9c9" stroke="#666" stroke-width="1.5"/>
<path d="M80,495 L230,420 L300,440 L140,530 Z" fill="#6a6a6a" stroke="#333" stroke-width="1.5"/>
<!-- left clamp beam -->
<path d="M15,235 L180,300 L180,420 L15,345 Z" fill="#3d3d3d"/>
<path d="M35,185 L92,158 L216,200 L172,228 L178,300 L15,240 Z" fill="#555"/>
<path d="M36,244 L168,292 L170,238 L40,196 Z" fill="#6a6a6a" stroke="#333" stroke-width="1.5"/>
<path d="M40,186 L92,160 L214,200 L170,226 Z" fill="#8d8d8d" stroke="#444" stroke-width="1.5"/>
<path d="M20,290 L75,310 L75,372 L20,348 Z" fill="#2c2c2c" stroke-width="1.5"/>
<circle cx="52" cy="335" r="12" fill="#555" stroke="#111" stroke-width="1.5"/>
<path d="M75,312 L150,338 L150,400 L75,372 Z" fill="#4a4a4a" stroke-width="1.5"/>
<!-- bar -->
<path d="M182,322 L250,318 L280,345 L278,395 L215,398 L182,372 Z" fill="#8a8a8a"/>
<path d="M182,322 L250,318 L280,345 L212,350 Z" fill="#b0b0b0" stroke="#555" stroke-width="1.5"/>
<!-- jaw body -->
<path d="M172,228 L216,200 L300,225 L396,380 L384,420 L340,432 L292,392 L268,340 L182,262 Z" fill="url(#rtJaw)"/>
<circle cx="236" cy="246" r="27" fill="#2e2e2e"/><circle cx="236" cy="246" r="15" fill="#808080" stroke="#222" stroke-width="2"/><circle cx="238" cy="250" r="6" fill="#333" stroke="none"/>
<!-- block -->
<path d="M266,196 L350,130 L406,166 L300,226 Z" fill="#bcbcbc" stroke="#444" stroke-width="2"/>
<path d="M406,166 L422,158 L512,300 L500,312 Z" fill="#9a9a9a" stroke="#555" stroke-width="1.5"/>
<path d="M300,226 L406,166 L500,312 L396,380 Z" fill="url(#rtBlock)" stroke="#555" stroke-width="2"/>
<path d="M396,380 L500,312 L470,365 L384,420 Z" fill="#6a6a6a" stroke="#333" stroke-width="1.5"/>
</g></g>
<!-- GUIDE callout: 533-space of region [541,317,649,425] scale 0.20263 -->
<g clip-path="url(#cGuide)"><g transform="translate(541,317) scale(0.20263)" stroke="#222" stroke-width="2.2" stroke-linejoin="round">
<rect x="0" y="0" width="533" height="533" fill="#fff" stroke="none"/>
<path d="M90,90 L330,-10 L560,-10 L560,120 L240,120 Z" fill="#8a8a8a" stroke="none"/>
<path d="M120,60 L330,-10 L400,-10 L170,95 Z" fill="#5e5e5e" stroke="none"/>
<!-- background rails: bands running lower-left to upper-right -->
<path d="M-10,210 L330,20 L560,20 L560,300 L400,365 L280,412 L200,450 L130,525 L-10,420 Z" fill="#949494" stroke="none"/>
<path d="M-10,250 L90,200 L110,225 L-10,290 Z" fill="#4f4f4f" stroke="none"/>
<path d="M-10,290 L110,225 L160,260 L-10,350 Z" fill="#9a9a9a" stroke="none"/>
<path d="M-10,350 L100,300 L190,400 L60,470 Z" fill="#6a6a6a" stroke="none"/>
<path d="M20,425 L170,385 L200,410 L60,470 Z" fill="#b5b5b5" stroke="#555" stroke-width="1.5"/>
<path d="M60,470 L200,410 L210,450 L130,520 Z" fill="#5a5a5a" stroke="none"/>
<path d="M240,40 L330,10 L560,100 L560,160 L400,215 L300,85 Z" fill="#8c8c8c" stroke="none"/>
<path d="M400,200 L560,130 L560,175 L415,240 Z" fill="#c4c4c4" stroke="#666" stroke-width="1.5"/>
<path d="M415,240 L560,175 L560,215 L430,275 Z" fill="#707070" stroke="none"/>
<path d="M430,275 L560,215 L560,260 L420,320 Z" fill="#a5a5a5" stroke="#555" stroke-width="1.5"/>
<path d="M400,330 L560,260 L560,300 L390,370 Z" fill="#4c4c4c" stroke="none"/>
<!-- light blocks upper-left -->
<path d="M30,130 L100,85 L150,112 L100,205 L25,232 Z" fill="#dedede" stroke="#777" stroke-width="1.5"/>
<path d="M100,85 L130,78 L165,100 L150,112 Z" fill="#b5b5b5" stroke="#666" stroke-width="1.5"/>
<path d="M160,96 L214,74 L246,110 L240,146 L166,152 Z" fill="#f0f0f0" stroke="#777" stroke-width="1.5"/>
<path d="M100,205 L150,112 L166,152 L128,200 Z" fill="#5a5a5a" stroke="#333" stroke-width="1.5"/>
<!-- bracket plate with hole -->
<path d="M252,96 L300,84 L384,104 L432,166 L392,202 L330,182 L268,150 Z" fill="#8c8c8c"/>
<path d="M252,96 L300,84 L345,95 L290,150 L268,150 Z" fill="#b0b0b0" stroke="#555" stroke-width="1.5"/>
<ellipse cx="364" cy="166" rx="20" ry="17" transform="rotate(-30 364 166)" fill="#f4f4f4" stroke="#333" stroke-width="2"/>
<path d="M348,172 L380,156" stroke="#555" stroke-width="3"/>
<circle cx="305" cy="121" r="4" fill="#333" stroke="none"/>
<!-- upper inside face -->
<path d="M150,150 L246,110 L332,216 L298,252 L128,196 Z" fill="#656565"/>
<!-- side portion -->
<path d="M290,276 L345,226 L372,236 L386,330 L352,400 L282,412 L195,410 Z" fill="#787878"/>
<!-- right leg -->
<path d="M384,214 L420,220 L442,282 L402,332 L384,330 L372,236 Z" fill="#545454"/>
<!-- white strip -->
<path d="M338,216 L394,190 L406,200 L346,236 Z" fill="#f6f6f6" stroke="#555" stroke-width="1.5"/>
<!-- front face -->
<path d="M120,205 L290,276 L195,410 L80,326 Z" fill="url(#gdFace)"/>
<path d="M126,194 L298,250 L290,276 L120,205 Z" fill="#d4d4d4" stroke="#444" stroke-width="1.5"/>
<path d="M290,276 L298,250 L345,226 L338,240 Z" fill="#a0a0a0" stroke="#444" stroke-width="1.5"/>
<!-- lower lip -->
<path d="M160,385 L195,410 L282,412 L290,395 L200,420 Z" fill="#444" stroke-width="1.5"/>
<!-- gusset -->
<path d="M195,412 L266,402 L270,505 L238,505 L190,442 Z" fill="#555"/>
</g></g>
<!-- CHEM callout: 677x533-space of region [336,362,524,510] scale 0.2777 -->
<g clip-path="url(#cChem)"><g transform="translate(336,362) scale(0.2777)" stroke="#222" stroke-width="2.2" stroke-linejoin="round">
<rect x="-20" y="-20" width="720" height="580" fill="#fff" stroke="none"/>
<!-- general gray under-layer (upper-left half) -->
<path d="M-20,560 L-20,-20 L700,-20 L700,170 L665,176 L523,223 L496,297 L428,345 L300,420 L200,520 Z" fill="#8c8c8c" stroke="none"/>
<!-- top-left bands along rim -->
<path d="M-20,294 L520,-10 L520,-20 L-20,-20 Z" fill="#939393" stroke="none"/>
<path d="M-20,294 L520,-10 L520,12 L-20,318 Z" fill="#4c4c4c" stroke="#222" stroke-width="1.5"/>
<path d="M-20,304 L520,0" stroke="#2a2a2a" stroke-width="1.5" fill="none"/>
<path d="M-20,318 L330,122 L345,140 L0,335 Z" fill="#b8b8b8" stroke="#444" stroke-width="1.2"/>
<!-- top-right faces -->
<path d="M496,34 L590,40 L700,120 L645,101 L604,68 L560,60 Z" fill="#7c7c7c" stroke="#333" stroke-width="1.5"/>
<!-- big dark channel -->
<path d="M320,115 L496,34 L645,81 L577,135 L469,95 L368,142 Z" fill="#4d4d4d" stroke="#222" stroke-width="1.5"/>
<!-- mid rails (light tubes) -->
<path d="M110,352 L320,225 L368,250 L150,380 Z" fill="#6e6e6e" stroke="#333" stroke-width="1.5"/>
<path d="M266,155 L330,125 L420,170 L392,210 L340,215 Z" fill="#b4b4b4" stroke="#444" stroke-width="1.5"/>
<path d="M368,142 L469,95 L500,112 L412,160 Z" fill="#bababa" stroke="#444" stroke-width="1.5"/>
<path d="M412,160 L500,112 L505,135 L420,180 Z" fill="#7a7a7a" stroke="#333" stroke-width="1.5"/>
<path d="M200,205 L266,170 L340,215 L280,250 Z" fill="#a8a8a8" stroke="#444" stroke-width="1.5"/>
<path d="M60,300 L110,275 L150,300 L100,330 Z" fill="#a5a5a5" stroke="#444" stroke-width="1.5"/>
<path d="M455,105 L480,92 L500,104 L476,118 Z" fill="#8a8a8a" stroke="#444" stroke-width="1.2"/>
<!-- dark recess under arm -->
<path d="M510,162 L570,132 L604,88 L645,101 L665,176 L523,223 Z" fill="#474747" stroke="#222" stroke-width="1.5"/>
<path d="M513,166 L574,136 L584,196 L518,216 Z" fill="#5c5c5c" stroke="#333" stroke-width="1.2"/>
<path d="M632,165 L700,150 L700,200 L640,205 Z" fill="#a8a8a8" stroke="#444" stroke-width="1.2"/>
<!-- lock arm -->
<path d="M388,209 Q386,186 392,179 L412,159 L584,64 Q600,60 604,68 L597,94 Q585,112 564,125 L483,169 L469,196 L402,223 Z" fill="url(#chArm)"/>
<path d="M388,209 Q386,186 392,179 L412,159 Q402,180 402,223 Z" fill="#d0d0d0" stroke="#555" stroke-width="1.2"/>
<path d="M564,125 Q590,108 600,80" fill="none" stroke="#d8d8d8" stroke-width="4"/>
<!-- vertical fin -->
<path d="M476,179 L503,165 L499,270 L483,290 Z" fill="#a6a6a6"/>
<!-- link plate -->
<path d="M307,284 L449,203 L483,223 L496,297 L428,345 L368,360 L340,330 Z" fill="url(#chPlate)"/>
<!-- barrel behind clevis -->
<path d="M150,235 L215,205 L262,250 L172,300 Z" fill="url(#chBarrel)" stroke="#444" stroke-width="1.5"/>
<ellipse cx="185" cy="256" rx="34" ry="46" transform="rotate(-30 185 256)" fill="#d4d4d4" stroke="#555" stroke-width="1.5"/>
<!-- clevis block -->
<path d="M170,300 L262,250 L332,290 L246,346 Z" fill="#a9a9a9"/>
<path d="M246,346 L332,290 L318,350 L300,384 L262,432 L236,400 Z" fill="#6b6b6b"/>
<circle cx="206" cy="311" r="5" fill="#2a2a2a" stroke="none"/><circle cx="282" cy="247" r="3" fill="#333" stroke="none"/>
<path d="M60,345 L170,300 L246,346 L236,400 L200,350 Z" fill="#757575" stroke-width="1.5"/>
<path d="M70,290 L150,262 L172,300 L100,330 Z" fill="#8f8f8f" stroke="#333" stroke-width="1.2"/>
<!-- pin -->
<path d="M296,312 L352,282 L420,330 L420,410 L352,420 L300,400 Z" fill="#bdbdbd" stroke="#444" stroke-width="1.5"/>
<ellipse cx="306" cy="356" rx="30" ry="52" transform="rotate(-22 306 356)" fill="#c9c9c9" stroke="#555" stroke-width="1.8"/>
<path d="M300,312 L360,290 L400,320 L350,345 Z" fill="#e0e0e0" stroke="none"/>
<ellipse cx="386" cy="366" rx="40" ry="52" transform="rotate(-22 386 366)" fill="#3e3e3e"/>
<g fill="#9a9a9a" stroke="none"><path d="M370,338 l12,-4 l-2,12 z"/><path d="M405,350 l10,8 l-13,4 z"/><path d="M362,385 l12,2 l-8,10 z"/><path d="M395,395 l12,-6 l-2,14 z"/></g>
<!-- big cylinder end -->
<path d="M22,400 C30,335 105,298 172,333 C232,365 250,432 200,505 L160,560 L-20,560 L-20,440 Z" fill="url(#chCyl)" stroke="#333" stroke-width="2.5"/>
<path d="M40,330 C100,290 180,315 215,365 C245,410 235,470 195,520" fill="none" stroke="#777" stroke-width="5"/>
</g></g>

<!--/CONTENT-->
<!--SMALLCIRCLES-->
<g fill="none" stroke="#7c7c7c" stroke-width="0.9">
<circle cx="181.1" cy="286.4" r="33.3"/>
<circle cx="499.2" cy="181.7" r="21.8"/>
<circle cx="660" cy="204" r="21.3"/>
<circle cx="592" cy="238" r="15.5"/>
<circle cx="492.4" cy="290.3" r="18"/>
<ellipse cx="416.5" cy="301.7" rx="34.2" ry="21.4" transform="rotate(-30 416.5 301.7)"/>
<path d="M212,224 L195,256 M453,154 L483,175 M674,167 L665,183 M605.5,249 L661,282 M507.5,304.5 L554,337 M422,326.5 L424,376"/>
</g>

<!--LABELS-->
<g id="labels">
<text x="138.5" y="77" textLength="103" lengthAdjust="spacingAndGlyphs">Removable Hook</text>
<text x="282.5" y="35" textLength="183.5" lengthAdjust="spacingAndGlyphs">Hydraulic Container Clamping</text>
<text x="549" y="31" textLength="57" lengthAdjust="spacingAndGlyphs">Large Dia</text>
<text x="549" y="48.5" textLength="70" lengthAdjust="spacingAndGlyphs">Rear Rollers</text>
<text x="46" y="361.7" textLength="69" lengthAdjust="spacingAndGlyphs">Low Profile</text>
<text x="46" y="377" textLength="56.5" lengthAdjust="spacingAndGlyphs">‘Z’ Frame</text>
<text x="196" y="512.5" textLength="61.5" lengthAdjust="spacingAndGlyphs">Sliding Jib</text>
<text x="500" y="475.5" textLength="136" lengthAdjust="spacingAndGlyphs">Chem Container Locks</text>
<text x="634" y="430.5" textLength="105" lengthAdjust="spacingAndGlyphs">Container Guides</text>
</g>
<g stroke="#222" stroke-width="1.3" fill="none" marker-end="url(#ah)">
<path d="M156.5,83.5 L185.8,112.3"/>
<path d="M337.5,40 L368,69.5"/>
<path d="M597.5,52.5 L629,84"/>
<path d="M64,380 L94.5,410"/>
<path d="M225.8,496.5 L225.8,388.5"/>
<path d="M519.5,459.5 L500,408.5"/>
<path d="M647.5,417 L628.6,390"/>
</g>
</svg>
</body></html>
